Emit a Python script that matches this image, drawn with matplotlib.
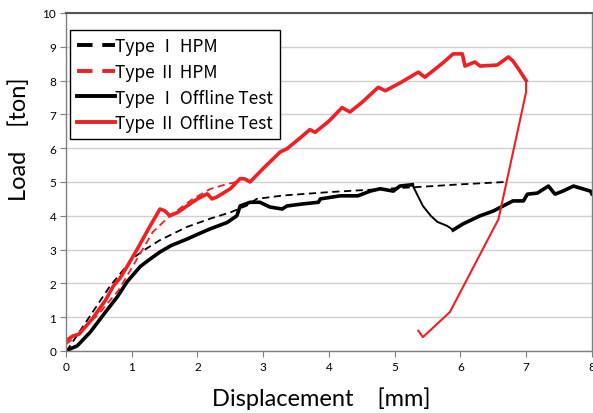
import matplotlib
matplotlib.use("Agg")
import matplotlib.pyplot as plt

plt.rcParams['font.family'] = ['Lato', 'Noto Sans CJK JP', 'DejaVu Sans']

# Type I offline test (black solid)
t1_off_x = [0.0, 0.06, 0.17, 0.37, 0.6, 0.78, 0.93, 1.13, 1.28, 1.43, 1.6, 1.84, 2.0, 2.19, 2.45,
            2.6, 2.65, 2.8, 2.95, 3.1, 3.29, 3.36, 3.6, 3.84, 3.87, 4.17, 4.44, 4.63, 4.78, 4.98,
            5.08, 5.27, 5.35, 5.43, 5.55, 5.65, 5.8, 5.89, 6.04, 6.3, 6.5, 6.8, 6.96, 7.02, 7.17,
            7.34, 7.44, 7.56, 7.72, 7.98, 8.0]
t1_off_y = [0.0, 0.06, 0.15, 0.56, 1.15, 1.6, 2.05, 2.5, 2.72, 2.93, 3.12, 3.31, 3.45, 3.61, 3.8,
            4.0, 4.29, 4.4, 4.4, 4.26, 4.2, 4.29, 4.35, 4.4, 4.5, 4.59, 4.59, 4.73, 4.8, 4.73,
            4.88, 4.92, 4.6, 4.29, 4.0, 3.82, 3.7, 3.58, 3.76, 4.0, 4.14, 4.44, 4.44, 4.64, 4.67,
            4.88, 4.64, 4.73, 4.88, 4.73, 4.65]

# Type II offline test (red solid)
t2_off_x = [0.0, 0.1, 0.2, 0.4, 0.6, 0.72, 0.82, 0.93, 1.08, 1.28, 1.43, 1.5, 1.58, 1.7, 1.84,
            2.0, 2.15, 2.22, 2.3, 2.5, 2.65, 2.72, 2.8, 3.0, 3.26, 3.36, 3.56, 3.71, 3.79, 4.0,
            4.2, 4.32, 4.5, 4.75, 4.86, 5.1, 5.36, 5.46, 5.59, 5.75, 5.89, 6.03, 6.07, 6.22, 6.3,
            6.56, 6.73, 6.8, 6.9, 7.0, 7.0, 6.58, 5.84, 5.43, 5.36]
t2_off_y = [0.3, 0.44, 0.5, 0.95, 1.5, 1.92, 2.15, 2.5, 3.0, 3.7, 4.2, 4.15, 4.0, 4.1, 4.29,
            4.5, 4.65, 4.5, 4.56, 4.8, 5.1, 5.09, 5.0, 5.4, 5.89, 5.98, 6.3, 6.55, 6.47, 6.8,
            7.2, 7.07, 7.35, 7.8, 7.7, 7.95, 8.25, 8.1, 8.3, 8.55, 8.79, 8.79, 8.43, 8.55, 8.43,
            8.46, 8.7, 8.58, 8.3, 8.0, 7.66, 3.9, 1.15, 0.41, 0.6]

# HPM results (dashed)
t1_hpm_x = [0.0, 0.03, 0.67, 1.02, 1.2, 1.43, 1.84, 2.2, 2.5, 2.75, 2.9, 3.3, 4.0, 4.7, 5.34, 6.0, 6.68]
t1_hpm_y = [0.0, 0.06, 1.92, 2.75, 3.0, 3.28, 3.67, 3.92, 4.1, 4.3, 4.5, 4.6, 4.7, 4.78, 4.85, 4.93, 5.0]
t2_hpm_x = [0.0, 0.1, 0.5, 0.8, 1.08, 1.32, 1.58, 1.93, 2.19, 2.45, 2.6]
t2_hpm_y = [0.2, 0.35, 1.1, 1.8, 2.72, 3.52, 4.0, 4.5, 4.79, 4.94, 5.0]

red = '#ee2024'

fig = plt.figure(figsize=(5.93, 4.14), dpi=100)
ax = fig.add_axes([0.1113, 0.1498, 0.8867, 0.8164])

l1, = ax.plot(t1_hpm_x, t1_hpm_y, color='black', ls=(0, (4, 2.5)), lw=1.3, label='Type Ⅰ HPM')
l2, = ax.plot(t2_hpm_x, t2_hpm_y, color=red, ls=(0, (4, 2.5)), lw=1.3, label='Type Ⅱ HPM')
# dense measured parts thick, sparse parts thin
l3, = ax.plot(t1_off_x[:32], t1_off_y[:32], color='black', lw=2.6, label='Type Ⅰ Offline Test')
ax.plot(t1_off_x[31:38], t1_off_y[31:38], color='black', lw=1.4)
ax.plot(t1_off_x[37:], t1_off_y[37:], color='black', lw=2.6)
l4, = ax.plot(t2_off_x[:50], t2_off_y[:50], color=red, lw=2.6, label='Type Ⅱ Offline Test')
ax.plot(t2_off_x[49:], t2_off_y[49:], color=red, lw=1.5)

ax.set_xlim(0, 8)
ax.set_ylim(0, 10)
ax.set_xticks(range(0, 9))
ax.set_yticks(range(0, 11))
ax.grid(axis='y', color='#d0d0d0', lw=1)
ax.set_axisbelow(True)
for s in ax.spines.values():
    s.set_color('#7f7f7f')
    s.set_linewidth(1.0)
ax.spines['top'].set_color('#555555')
ax.spines['top'].set_linewidth(1.5)
ax.tick_params(length=4, color='#7f7f7f', labelsize=8.5, pad=3)

leg = ax.legend(handles=[l1, l2, l3, l4], loc='upper left', bbox_to_anchor=(70 / 593, 1 - 31 / 414),
                bbox_transform=fig.transFigure, frameon=True, fancybox=False,
                prop={'family': ['Noto Sans CJK JP'], 'size': 12.5},
                edgecolor='black', framealpha=1, handlelength=2.2, handletextpad=0.0,
                borderpad=0.4, labelspacing=0.45, borderaxespad=0)
leg.get_frame().set_linewidth(1.0)
for h in leg.get_lines():
    h.set_linewidth(2.8)

fig.text(321 / 593, 1 - 399 / 414, 'Displacement    [mm]', ha='center', va='center', fontsize=17)
fig.text(19 / 593, 1 - 139 / 414, 'Load    [ton]', ha='center', va='center', rotation=90, fontsize=17)

fig.savefig('out.png', dpi=100)
